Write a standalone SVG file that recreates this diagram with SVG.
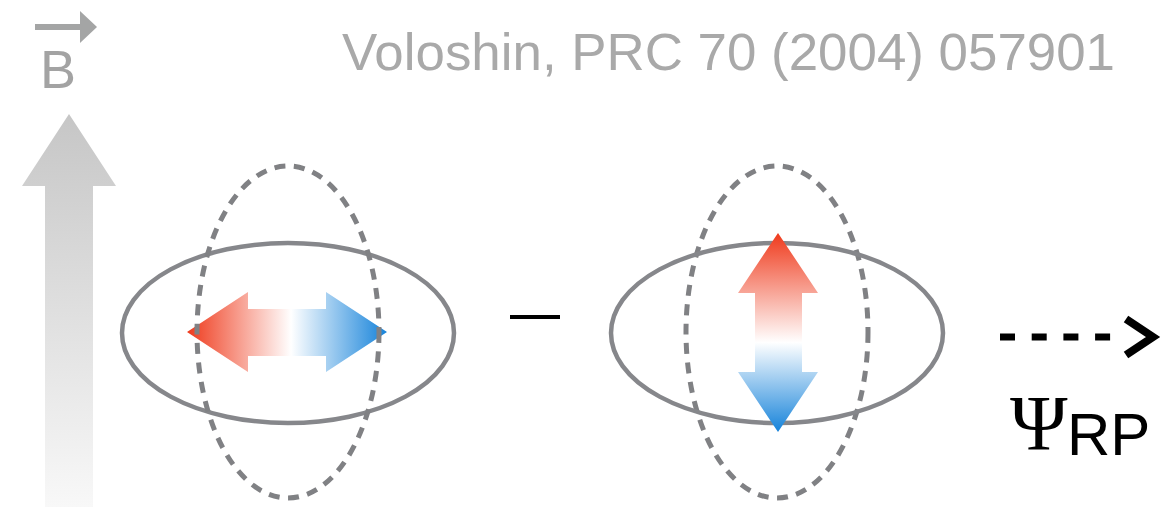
<svg xmlns="http://www.w3.org/2000/svg" width="1168" height="507" viewBox="0 0 1168 507">
  <defs>
    <linearGradient id="fieldGrad" x1="0" y1="114" x2="0" y2="507" gradientUnits="userSpaceOnUse">
      <stop offset="0" stop-color="#c6c6c6"/>
      <stop offset="1" stop-color="#f8f8f8"/>
    </linearGradient>
    <linearGradient id="hGrad" x1="187" y1="0" x2="387" y2="0" gradientUnits="userSpaceOnUse">
      <stop offset="0" stop-color="#ef3a1c"/>
      <stop offset="0.52" stop-color="#ffffff"/>
      <stop offset="1" stop-color="#1683da"/>
    </linearGradient>
    <linearGradient id="vGrad" x1="0" y1="233" x2="0" y2="432" gradientUnits="userSpaceOnUse">
      <stop offset="0" stop-color="#ef3a1c"/>
      <stop offset="0.55" stop-color="#ffffff"/>
      <stop offset="1" stop-color="#1683da"/>
    </linearGradient>
    <style>
      .orbit { fill: none; stroke: #86878b; stroke-width: 4.5; }
      .overlap { fill: none; stroke: #808184; stroke-width: 5; stroke-dasharray: 11 8.5; }
      .cite { font-family: "Liberation Sans", Arial, sans-serif; font-size: 52px; fill: #a9a9a9; }
      .greek { font-family: "Liberation Serif", "Times New Roman", serif; font-size: 78px; fill: #000; }
      .sub { font-family: "Liberation Sans", Arial, sans-serif; font-size: 60px; fill: #000; }
    </style>
  </defs>

  <!-- magnetic field indicator -->
  <g id="field">
    <path d="M69,114 L116,186 L93,186 L93,507 L45,507 L45,186 L22,186 Z" fill="url(#fieldGrad)"/>
    <line x1="35" y1="27" x2="82" y2="27" stroke="#a4a5a5" stroke-width="6"/>
    <polygon points="80,11 97,27 80,43" fill="#a4a5a5"/>
    <text x="40" y="88" font-family="Liberation Sans, Arial, sans-serif" font-size="54" fill="#a3a3a3">B</text>
  </g>

  <!-- reference -->
  <g id="citation">
    <text class="cite" x="342" y="70" textLength="773" lengthAdjust="spacingAndGlyphs">Voloshin, PRC 70 (2004) 057901</text>
  </g>

  <!-- left configuration: in-plane separation -->
  <g id="left-config">
    <ellipse class="orbit" cx="288" cy="333" rx="166" ry="90"/>
    <path d="M187,332 L248,292 L248,309 L326,309 L326,292 L387,332 L326,372 L326,356 L248,356 L248,372 Z" fill="url(#hGrad)"/>
    <ellipse class="overlap" cx="288" cy="332" rx="91" ry="166"/>
  </g>

  <!-- minus sign -->
  <g id="minus">
    <line x1="510" y1="317" x2="560" y2="317" stroke="#000" stroke-width="4"/>
  </g>

  <!-- right configuration: out-of-plane separation -->
  <g id="right-config">
    <ellipse class="overlap" cx="777" cy="332" rx="91" ry="166"/>
    <ellipse class="orbit" cx="777" cy="333" rx="166" ry="90"/>
    <path d="M778,233 L818,293 L802,293 L802,372 L818,372 L778,432 L738,372 L755,372 L755,293 L738,293 Z" fill="url(#vGrad)"/>
  </g>

  <!-- reaction plane direction -->
  <g id="connectors">
    <line x1="1000" y1="337" x2="1112" y2="337" stroke="#000" stroke-width="7" stroke-dasharray="15 16.7"/>
    <polyline points="1126,319 1153,337 1126,355" fill="none" stroke="#000" stroke-width="8"/>
  </g>
  <g id="reaction-plane-label">
    <text class="greek" x="1010" y="449">Ψ</text>
    <text class="sub" x="1067" y="455">RP</text>
  </g>
</svg>
